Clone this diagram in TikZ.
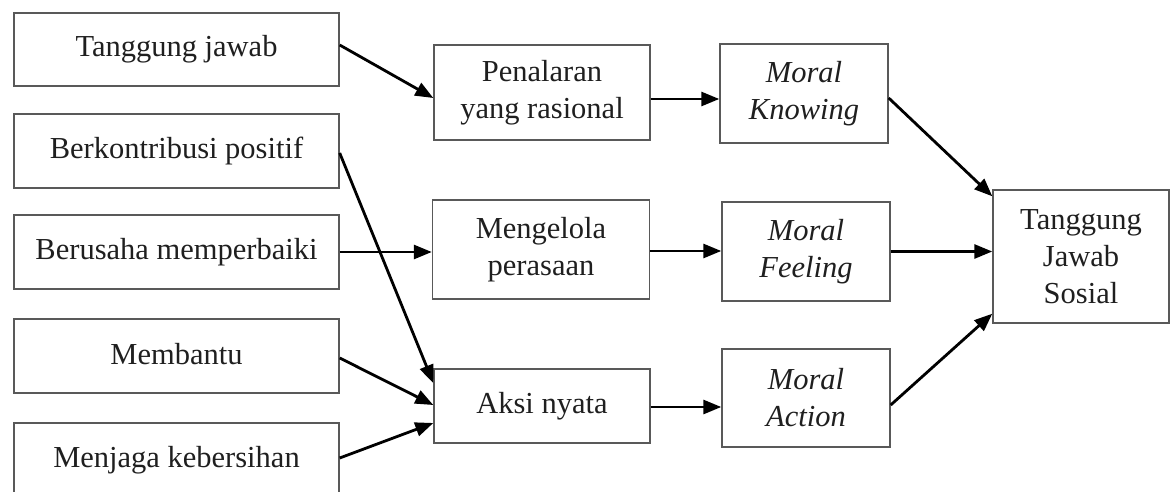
\documentclass[tikz,border=0pt]{standalone}
\usepackage{fontspec}
\setmainfont{Liberation Serif}
\usetikzlibrary{arrows.meta}
\begin{document}
\begin{tikzpicture}[x=1pt,y=-1pt,
  box/.style={draw=black!65,line width=1.4pt,inner sep=0pt,align=center,
    text=black!88,font=\fontsize{30.5}{37}\selectfont},
  conn/.style={line width=2.8pt,-{Triangle[length=18pt,width=14pt]}}]
\useasboundingbox (0,0) rectangle (1172,492);
% left column
\node[box,minimum width=325pt,minimum height=73pt] (b1) at (176.5,49.5) {\raisebox{3pt}{Tanggung jawab}};
\node[box,minimum width=325pt,minimum height=74pt] (b2) at (176.5,151) {\raisebox{4pt}{Berkontribusi positif}};
\node[box,minimum width=325pt,minimum height=74pt] (b3) at (176.5,252) {\raisebox{4pt}{Berusaha memperbaiki}};
\node[box,minimum width=325pt,minimum height=74pt] (b4) at (176.5,356) {\raisebox{4pt}{Membantu}};
\node[box,minimum width=325pt,minimum height=74pt] (b5) at (176.5,460) {\raisebox{6pt}{Menjaga kebersihan}};
% middle column
\node[box,minimum width=216pt,minimum height=95pt] (pen) at (542,92.5) {Penalaran\\yang rasional};
\node[box,minimum width=217pt,minimum height=99pt] (men) at (541,249.5) {Mengelola\\perasaan};
\node[box,minimum width=216pt,minimum height=74pt] (aksi) at (542,406) {Aksi nyata};
% moral column
\node[box,minimum width=168pt,minimum height=99pt] (know) at (804,93.5) {\itshape Moral\\\itshape Knowing};
\node[box,minimum width=168pt,minimum height=99pt] (feel) at (806,251.5) {\itshape Moral\\\itshape Feeling};
\node[box,minimum width=168pt,minimum height=98pt] (act) at (806,398) {\itshape Moral\\\itshape Action};
% result
\node[box,minimum width=176pt,minimum height=133pt] (tjs) at (1081,256.5) {Tanggung\\Jawab\\Sosial};
% connectors
\draw[conn] ([yshift=4.5pt]b1.east) -- ([yshift=-5.5pt]pen.west);
\draw[conn] ([yshift=-2pt]b2.east) -- ([yshift=23pt]aksi.west);
\draw[conn] (b3.east) -- (b3.east -| men.west);
\draw[conn] ([yshift=-2pt]b4.east) -- ([yshift=1pt]aksi.west);
\draw[conn] ([yshift=2pt]b5.east) -- ([yshift=-17pt]aksi.west);
\draw[conn] ([yshift=-6.5pt]pen.east) -- ([yshift=-6.5pt]pen.east -| know.west);
\draw[conn] ([yshift=-1.5pt]men.east) -- ([yshift=-1.5pt]men.east -| feel.west);
\draw[conn] ([yshift=-1pt]aksi.east) -- ([yshift=-1pt]aksi.east -| act.west);
\draw[conn] ([yshift=-4.5pt]know.east) -- ([yshift=-7pt]tjs.north west);
\draw[conn] (feel.east) -- (feel.east -| tjs.west);
\draw[conn] ([yshift=-7pt]act.east) -- ([yshift=10pt]tjs.south west);
\end{tikzpicture}
\end{document}
